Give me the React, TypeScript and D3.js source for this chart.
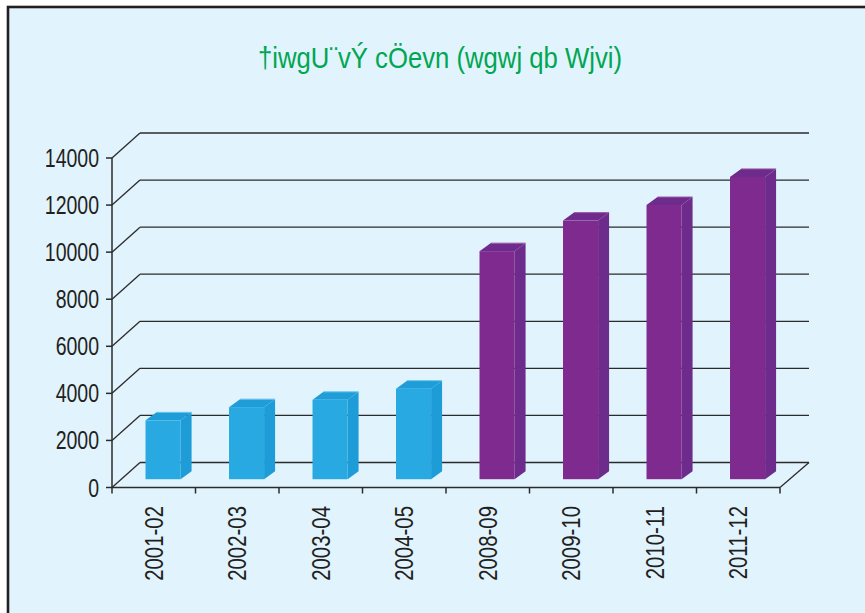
import React from "react";
import * as d3 from "d3";

const TITLE = "†iwgU¨vÝ cÖevn (wgwj qb Wjvi)";
const categories = ["2001-02", "2002-03", "2003-04", "2004-05", "2008-09", "2009-10", "2010-11", "2011-12"];
const values = [2501, 3062, 3372, 3848, 9689, 10987, 11650, 12843];
const groups = ["early", "early", "early", "early", "late", "late", "late", "late"];
const yTicks = [0, 2000, 4000, 6000, 8000, 10000, 12000, 14000];

const W = 865;
const H = 613;
const X0 = 112;
const X1 = 780;
const Y0 = 487.5;
const YTOP = 158;
const DEPTH_X = 28;
const DEPTH_Y = 25;
const BAR_OFF_X = 9.3;
const BAR_OFF_Y = 8.3;
const BAR_DX = 11;
const BAR_DY = 8;

const palette: Record<string, { front: string; side: string; top: string; edge: string }> = {
  early: { front: "#29a9e1", side: "#1e9cd8", top: "#1f9dd9", edge: "#6cc6ef" },
  late: { front: "#7f2a8e", side: "#6d2c8c", top: "#6f2b8c", edge: "#9a5aaa" },
};

export default function App() {
  const x = d3.scaleBand<string>().domain(categories).range([X0, X1]).padding(0);
  const y = d3.scaleLinear().domain([0, 14000]).range([Y0, YTOP]);
  const bw = x.bandwidth();
  const barW = bw * 0.42;
  const gridColor = "#2b2b2b";
  const textColor = "#231f20";
  const font = "'Liberation Sans', Arial, sans-serif";
  const tickEdges = [...categories.map((c) => x(c) as number), X1];

  return (
    <svg
      width={W}
      height={H}
      style={{ position: "absolute", left: 0, top: 0, background: "#ffffff" }}
    >
      <rect x={8} y={7} width={W + 20} height={H + 20} fill="#e1f3fd" stroke="#231f20" strokeWidth={2.6} />
      <text
        x={258}
        y={68}
        fill="#00a651"
        fontFamily={font}
        fontSize={30}
        textLength={364}
        lengthAdjust="spacingAndGlyphs"
      >
        {TITLE}
      </text>

      {/* gridlines: diagonal + back wall lines */}
      {yTicks.map((t) => (
        <g key={"g" + t}>
          <line x1={X0} y1={y(t)} x2={X0 + DEPTH_X} y2={y(t) - DEPTH_Y} stroke={gridColor} strokeWidth={1.3} />
          <line x1={X0 + DEPTH_X} y1={y(t) - DEPTH_Y} x2={X1 + DEPTH_X + 1} y2={y(t) - DEPTH_Y} stroke={gridColor} strokeWidth={1.3} />
        </g>
      ))}
      {/* floor right edge */}
      <line x1={X1} y1={Y0} x2={X1 + DEPTH_X + 1} y2={Y0 - DEPTH_Y} stroke={gridColor} strokeWidth={1.3} />

      {/* bars */}
      {categories.map((c, i) => {
        const col = palette[groups[i]];
        const cx = (x(c) as number) + bw / 2 + BAR_OFF_X;
        const xl = cx - barW / 2;
        const xr = cx + barW / 2;
        const yb = y(0) - BAR_OFF_Y;
        const yt = y(values[i]) - BAR_OFF_Y;
        const side = `M${xr},${yt} L${xr + BAR_DX},${yt - BAR_DY} L${xr + BAR_DX},${yb - BAR_DY} L${xr},${yb} Z`;
        const top = `M${xl},${yt} L${xr},${yt} L${xr + BAR_DX},${yt - BAR_DY} L${xl + BAR_DX},${yt - BAR_DY} Z`;
        return (
          <g key={c}>
            <path d={side} fill={col.side} />
            <path d={top} fill={col.top} />
            <line x1={xl + BAR_DX} y1={yt - BAR_DY} x2={xr + BAR_DX} y2={yt - BAR_DY} stroke={col.edge} strokeWidth={1} />
            <rect x={xl} y={yt} width={barW} height={yb - yt} fill={col.front} />
          </g>
        );
      })}

      {/* y axis */}
      <line x1={X0} y1={YTOP} x2={X0} y2={Y0} stroke={gridColor} strokeWidth={1.5} />
      {yTicks.map((t) => (
        <g key={"t" + t}>
          <line x1={X0 - 6} y1={y(t)} x2={X0} y2={y(t)} stroke={gridColor} strokeWidth={1.5} />
          <text
            transform={`translate(${99},${y(t)}) scale(0.78,1)`}
            textAnchor="end"
            dy="0.36em"
            fontFamily={font}
            fontSize={25}
            fill={textColor}
          >
            {t}
          </text>
        </g>
      ))}

      {/* x axis */}
      <line x1={X0} y1={Y0} x2={X1} y2={Y0} stroke={gridColor} strokeWidth={1.5} />
      {tickEdges.map((e, i) => (
        <line key={"xt" + i} x1={e} y1={Y0} x2={e} y2={Y0 + 6} stroke={gridColor} strokeWidth={1.5} />
      ))}
      {categories.map((c) => (
        <text
          key={"l" + c}
          transform={`translate(${(x(c) as number) + bw / 2},${506}) rotate(-90) scale(0.8,1)`}
          textAnchor="end"
          dy="0.36em"
          fontFamily={font}
          fontSize={25.5}
          fill={textColor}
        >
          {c}
        </text>
      ))}
    </svg>
  );
}
